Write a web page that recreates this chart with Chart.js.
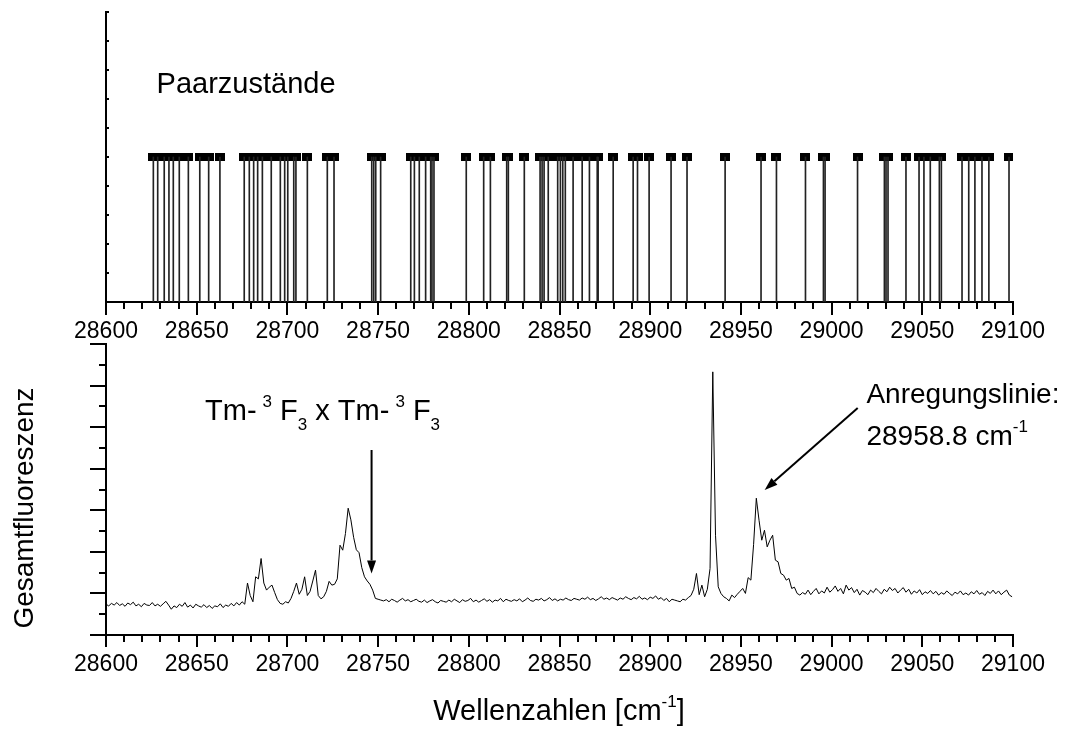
<!DOCTYPE html>
<html>
<head>
<meta charset="utf-8">
<script src="https://cdn.jsdelivr.net/npm/chart.js@4.4.1/dist/chart.umd.min.js"></script>
<style>
    html, body { margin: 0; padding: 0; background: #fff; }
    #wrap { position: relative; width: 1076px; height: 730px; }
    .box { position: absolute; left: 0; width: 1076px; }
    #top-box { top: 0; height: 350px; }
    #bot-box { top: 330px; height: 400px; }
</style>
</head>
<body>
<div id="wrap">
    <div class="box" id="top-box"><canvas id="pairChart"></canvas></div>
    <div class="box" id="bot-box"><canvas id="specChart"></canvas></div>
</div>
<script>
// Paarzustände: positions of the pair states (cm-1)
const pairLines = [
    28626.1, 28628.5, 28632.1, 28634.7, 28637.1, 28640.4, 28645.4, 28651.7, 28656.6, 28662.8,
    28676.2, 28679.0, 28681.4, 28683.6, 28686.2, 28691.1, 28696.1, 28698.5, 28700.2, 28703.5,
    28704.7, 28711.0, 28722.0, 28725.7, 28746.5, 28747.6, 28748.7, 28751.4, 28768.0, 28770.0,
    28772.7, 28776.2, 28779.0, 28779.7, 28780.8, 28798.6, 28808.2, 28811.9, 28820.9, 28821.8,
    28830.6, 28839.3, 28840.4, 28841.5, 28843.8, 28849.0, 28850.5, 28851.8, 28853.2, 28857.5,
    28862.5, 28866.5, 28870.8, 28871.3, 28879.6, 28890.6, 28893.0, 28899.4, 28911.5, 28920.3,
    28941.3, 28961.1, 28969.6, 28985.6, 28995.5, 28996.4, 29014.3, 29029.1, 29030.0, 29031.1,
    29041.0, 29048.2, 29050.9, 29054.4, 29059.4, 29060.5, 29071.9, 29075.6, 29079.0, 29082.9,
    29086.7, 29097.8
];
const PAIR_LEVEL = 5;

// Gesamtfluoreszenz, sampled every 1.5 cm-1 from 28600
const SPEC_START = 28600;
const SPEC_STEP = 1.5;
const fluorescence = [
    0.74, 0.70, 0.76, 0.72, 0.78, 0.71, 0.75, 0.69, 0.77, 0.73, 0.79, 0.70,
    0.74, 0.68, 0.76, 0.72, 0.71, 0.78, 0.70, 0.74, 0.69, 0.75, 0.81, 0.72,
    0.62, 0.70, 0.66, 0.74, 0.69, 0.78, 0.67, 0.72, 0.65, 0.74, 0.70, 0.67,
    0.73, 0.66, 0.71, 0.64, 0.70, 0.68, 0.75, 0.66, 0.72, 0.69, 0.76, 0.70,
    0.78, 0.72, 0.80, 0.74,
    1.25, 0.95, 0.80, 1.40, 1.35, 1.84, 1.25, 1.08, 1.15, 1.20,
    1.02, 0.85, 0.76, 0.74, 0.80, 0.77, 0.88, 1.05, 1.25, 0.98,
    1.10, 1.40, 0.95, 1.05, 1.30, 1.56, 0.95, 0.87, 0.92, 1.05,
    1.29, 1.20, 1.22, 1.35, 2.16, 2.04, 2.44, 3.05, 2.77, 2.35,
    2.05, 1.98, 1.62, 1.40, 1.30, 1.22, 1.08, 0.88, 0.86, 0.84,
    0.82, 0.85, 0.80, 0.86, 0.83, 0.79, 0.84, 0.88, 0.82, 0.85, 0.80, 0.83,
    0.86, 0.81, 0.79, 0.84, 0.78, 0.82, 0.85, 0.80, 0.77, 0.83, 0.81, 0.79,
    0.84, 0.80, 0.86, 0.82, 0.78, 0.85, 0.81, 0.83, 0.88, 0.80, 0.84, 0.79,
    0.83, 0.87, 0.81, 0.85, 0.79, 0.84, 0.82, 0.88, 0.80, 0.86, 0.83, 0.81,
    0.85, 0.82, 0.87, 0.80, 0.84, 0.89, 0.83, 0.81, 0.86, 0.84, 0.88, 0.82,
    0.85, 0.90, 0.83, 0.87, 0.82, 0.86, 0.84, 0.89, 0.85, 0.83, 0.88, 0.86,
    0.84, 0.89, 0.86, 0.91, 0.85, 0.88, 0.83, 0.87, 0.92, 0.86, 0.89, 0.85,
    0.90, 0.87, 0.84, 0.89, 0.86, 0.92, 0.88, 0.85, 0.90, 0.87, 0.93, 0.86,
    0.89, 0.85, 0.91, 0.88, 0.94, 0.86, 0.90, 0.83, 0.88, 0.80, 0.86, 0.84,
    0.82, 0.80, 0.86, 0.84, 0.90, 0.95, 1.10, 1.48, 0.97, 1.20,
    0.92, 1.10, 1.60, 6.33, 2.40, 1.16, 1.00, 0.92, 0.88, 0.82,
    0.96, 0.90, 0.98, 1.05, 1.12, 1.00, 1.38, 1.32, 2.18, 3.29,
    2.76, 2.28, 2.52, 2.12, 2.28, 2.40, 1.80, 1.76, 1.48, 1.44,
    1.32, 1.36, 1.12, 1.15, 1.00, 0.96,
    1.02, 0.98, 1.08, 0.97, 1.05, 1.12, 0.99, 1.06, 1.01, 1.15, 1.03, 1.09,
    1.18, 1.05, 1.12, 0.99, 1.20, 1.08, 1.14, 1.02, 1.10, 0.96, 1.07, 1.03,
    0.97, 1.08, 1.02, 1.12, 1.05, 0.99, 1.10, 1.04, 1.15, 1.07, 1.12, 1.01,
    1.08, 1.14, 1.03, 1.10, 0.98, 1.06, 1.01, 1.09, 0.97, 1.04, 1.00, 1.07,
    0.99, 1.05, 0.96, 1.02, 0.98, 1.06, 1.00, 0.95, 1.03, 0.99, 1.06, 0.97,
    1.01, 0.96, 1.04, 0.99, 1.07, 0.98, 1.02, 0.95, 1.05, 1.00, 1.08, 0.99,
    1.06, 0.97, 1.03, 1.08, 0.96, 0.92
];

const X_MIN = 28600, X_MAX = 29100, X_STEP = 50;
const FONT = 'Liberation Sans, Arial, sans-serif';

// Origin-style tick marks (major + minor), drawn off the scales
const tickMarks = {
    id: 'tickMarks',
    afterDraw(chart, args, opts) {
        const ctx = chart.ctx;
        const area = chart.chartArea;
        ctx.save();
        ctx.strokeStyle = '#000';
        ctx.lineWidth = 2;
        (opts.marks || []).forEach(m => {
            const scale = chart.scales[m.axis];
            const n = Math.round((scale.max - scale.min) / m.step);
            for (let i = 0; i <= n; i++) {
                const p = Math.round(scale.getPixelForValue(scale.min + i * m.step));
                ctx.beginPath();
                if (m.axis === 'x') {
                    ctx.moveTo(p, area.bottom);
                    ctx.lineTo(p, area.bottom + m.len);
                } else {
                    ctx.moveTo(area.left, p);
                    ctx.lineTo(area.left + m.len, p);
                }
                ctx.stroke();
            }
        });
        ctx.restore();
    }
};

// text with super/subscripts; x/y in data units, or px/py in canvas pixels
const richText = {
    id: 'richText',
    afterDraw(chart, args, opts) {
        const ctx = chart.ctx;
        (opts.items || []).forEach(it => {
            const x = it.px != null ? it.px : chart.scales.x.getPixelForValue(it.x);
            const y = it.py != null ? it.py : chart.scales.y.getPixelForValue(it.y);
            const size = it.size || 28;
            const small = Math.round(size * 0.6);
            const runs = it.runs.map(r => (typeof r === 'string' ? { t: r } : r));
            const fontOf = r => ((r.sup || r.sub) ? small : size) + 'px ' + FONT;
            let total = 0;
            runs.forEach(r => { ctx.font = fontOf(r); total += ctx.measureText(r.t).width + (r.dx || 0); });
            ctx.save();
            ctx.translate(x, y);
            if (it.rotate) ctx.rotate(it.rotate);
            ctx.fillStyle = '#000';
            ctx.textBaseline = 'alphabetic';
            ctx.textAlign = 'left';
            let cx = it.center ? -total / 2 : 0;
            runs.forEach(r => {
                ctx.font = fontOf(r);
                cx += (r.dx || 0);
                const dy = r.sup ? -size * 0.46 : (r.sub ? size * 0.34 : 0);
                ctx.fillText(r.t, cx, dy);
                cx += ctx.measureText(r.t).width;
            });
            ctx.restore();
        });
    }
};

const arrows = {
    id: 'arrows',
    afterDraw(chart, args, opts) {
        const ctx = chart.ctx;
        const sx = chart.scales.x, sy = chart.scales.y;
        ctx.save();
        ctx.strokeStyle = '#000';
        ctx.fillStyle = '#000';
        ctx.lineWidth = 2;
        (opts.items || []).forEach(a => {
            const x1 = sx.getPixelForValue(a.from[0]), y1 = sy.getPixelForValue(a.from[1]);
            const x2 = sx.getPixelForValue(a.to[0]), y2 = sy.getPixelForValue(a.to[1]);
            const ang = Math.atan2(y2 - y1, x2 - x1);
            const hl = 13, hw = 4.5;
            const bx = x2 - hl * Math.cos(ang), by = y2 - hl * Math.sin(ang);
            ctx.beginPath();
            ctx.moveTo(x1, y1);
            ctx.lineTo(bx, by);
            ctx.stroke();
            ctx.beginPath();
            ctx.moveTo(x2, y2);
            ctx.lineTo(bx + hw * Math.sin(ang), by - hw * Math.cos(ang));
            ctx.lineTo(bx - hw * Math.sin(ang), by + hw * Math.cos(ang));
            ctx.closePath();
            ctx.fill();
        });
        ctx.restore();
    }
};

// small flat square used as marker on top of each pair line
const marker = document.createElement('canvas');
marker.width = 10; marker.height = 8;
const mctx = marker.getContext('2d');
mctx.fillStyle = '#000';
mctx.fillRect(0, 0, 10, 8);

function xAxis(height) {
    return {
        type: 'linear', min: X_MIN, max: X_MAX, offset: false,
        grid: { display: false, drawTicks: false },
        border: { display: true, color: '#000', width: 2 },
        ticks: {
            stepSize: X_STEP, padding: 16, color: '#000', autoSkip: false, maxRotation: 0,
            font: { family: FONT, size: 23 },
            callback: v => String(v)
        },
        afterFit: s => { s.height = height; }
    };
}

function yAxis(min, max) {
    return {
        type: 'linear', min: min, max: max,
        grid: { display: false, drawTicks: false },
        border: { display: true, color: '#000', width: 2 },
        ticks: { display: false },
        afterFit: s => { s.width = 106; }
    };
}

const pairPoints = pairLines.map(x => ({ x: x, y: PAIR_LEVEL }));

new Chart(document.getElementById('pairChart'), {
    type: 'scatter',
    data: {
        datasets: [
            { type: 'bar', data: pairPoints, backgroundColor: '#222', barThickness: 1, borderWidth: 0 },
            { type: 'scatter', data: pairPoints, pointStyle: marker, pointRadius: 5 }
        ]
    },
    options: {
        responsive: true, maintainAspectRatio: false, animation: false, devicePixelRatio: 1,
        layout: { padding: { top: 12, right: 63, left: 0, bottom: 0 } },
        plugins: {
            legend: { display: false }, tooltip: { enabled: false },
            tickMarks: { marks: [
                { axis: 'x', step: 50, len: 13 }, { axis: 'x', step: 10, len: 7 },
                { axis: 'y', step: 1, len: 3 }
            ] },
            richText: { items: [ { x: 28627.9, y: 7.2, size: 29, runs: ['Paarzustände'] } ] }
        },
        scales: { x: xAxis(48), y: yAxis(0, 10) }
    },
    plugins: [tickMarks, richText]
});

new Chart(document.getElementById('specChart'), {
    type: 'scatter',
    data: {
        datasets: [{
            type: 'line',
            data: fluorescence.map((v, i) => ({ x: SPEC_START + i * SPEC_STEP, y: v })),
            borderColor: '#000', borderWidth: 1, pointRadius: 0, tension: 0, fill: false
        }]
    },
    options: {
        responsive: true, maintainAspectRatio: false, animation: false, devicePixelRatio: 1,
        layout: { padding: { top: 14, right: 63, left: 0, bottom: 0 } },
        plugins: {
            legend: { display: false }, tooltip: { enabled: false },
            tickMarks: { marks: [
                { axis: 'x', step: 50, len: 12 }, { axis: 'x', step: 10, len: 7 },
                { axis: 'y', step: 1, len: -16 }, { axis: 'y', step: 0.5, len: -7 }
            ] },
            richText: { items: [
                { x: 28654.6, y: 5.17, size: 29, runs: ['Tm-', { t: '3', sup: true, dx: 6 }, ' F', { t: '3', sub: true }, ' x Tm-', { t: '3', sup: true, dx: 6 }, ' F', { t: '3', sub: true }] },
                { x: 29019.2, y: 5.57, runs: ['Anregungslinie:'] },
                { x: 29019.2, y: 4.57, runs: ['28958.8 cm', { t: '-1', sup: true }] },
                { px: 33, py: 178, rotate: -Math.PI / 2, center: true, runs: ['Gesamtfluoreszenz'] },
                { px: 559, py: 390, size: 29, center: true, runs: ['Wellenzahlen [cm', { t: '-1', sup: true }, ']'] }
            ] },
            arrows: { items: [
                { from: [28746.4, 4.45], to: [28746.4, 1.48] },
                { from: [29014.4, 5.46], to: [28963.1, 3.49] }
            ] }
        },
        scales: { x: xAxis(95), y: yAxis(0, 7) }
    },
    plugins: [tickMarks, richText, arrows]
});
</script>
</body>
</html>
